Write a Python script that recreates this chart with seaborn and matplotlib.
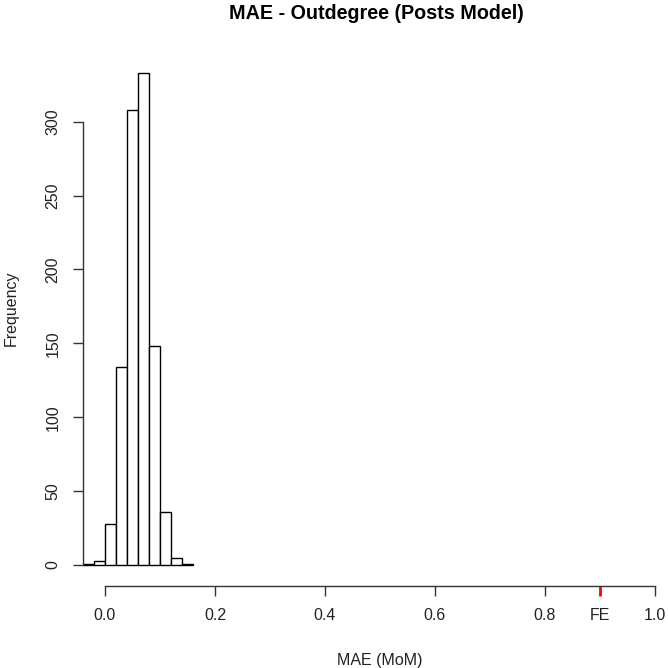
import matplotlib

matplotlib.use("Agg")
import matplotlib.pyplot as plt
import seaborn as sns


# ------------------------------------------------------------
# MAE histogram, outdegree, posts model (base-R look)
# ------------------------------------------------------------

bin_edges = [-0.04, -0.02, 0.00, 0.02, 0.04, 0.06, 0.08, 0.10, 0.12, 0.14, 0.16]
counts = [1, 3, 28, 134, 308, 333, 148, 36, 5, 1]

x_ticks = [0.0, 0.2, 0.4, 0.6, 0.8, 0.9, 1.0]
x_tick_labels = ["0.0", "0.2", "0.4", "0.6", "0.8", "FE", "1.0"]
fe_value = 0.9
y_ticks = [0, 50, 100, 150, 200, 250, 300]

sns.set_theme(style="white")
plt.rcParams["font.family"] = ["Liberation Sans", "DejaVu Sans"]

W = H = 668
fig = plt.figure(figsize=(6.68, 6.68), dpi=100)

# plot region in pixels (R-like layout)
left_px, right_px = 83, 677
bottom_px, top_px = 586, 30
ax = fig.add_axes([
    left_px / W,
    (H - bottom_px) / H,
    (right_px - left_px) / W,
    (bottom_px - top_px) / H,
])

centers = [(bin_edges[i] + bin_edges[i + 1]) / 2 for i in range(len(counts))]
sns.histplot(
    x=centers,
    weights=counts,
    bins=bin_edges,
    color="white",
    edgecolor="black",
    linewidth=1.0,
    alpha=1.0,
    ax=ax,
)

ax.set_xlim(-0.04, 1.04)
ax.set_ylim(-14.2, 362)

for side in ["top", "right"]:
    ax.spines[side].set_visible(False)
for side in ["left", "bottom"]:
    ax.spines[side].set_visible(True)
    ax.spines[side].set_color("#333333")
    ax.spines[side].set_linewidth(1.0)
ax.spines["bottom"].set_bounds(0, 1)
ax.spines["left"].set_bounds(0, 300)

ax.set_xticks(x_ticks)
ax.set_xticklabels(x_tick_labels)
ax.set_yticks(y_ticks)
ax.set_yticklabels([str(v) for v in y_ticks], rotation=90, va="center")

ax.tick_params(axis="both", which="major", direction="out", length=7.2, width=1.0,
               color="#333333", labelsize=11.5, labelcolor="#222222",
               bottom=True, left=True, pad=9)

# red tick marking the FE value
fe_tick = ax.xaxis.get_major_ticks()[x_ticks.index(fe_value)]
fe_tick.tick1line.set_markeredgecolor("red")
fe_tick.tick1line.set_markeredgewidth(2.0)

ax.set_xlabel("MAE (MoM)", fontsize=11.5, color="#222222", labelpad=21)
ax.set_ylabel("Frequency", fontsize=11.5, color="#222222", labelpad=19)
fig.text(376 / W, 1 - 19 / H, "MAE - Outdegree (Posts Model)", ha="center", va="baseline",
         fontsize=14.2, fontweight="bold", color="black")

ax.grid(False)
fig.savefig("out.png", dpi=100)
